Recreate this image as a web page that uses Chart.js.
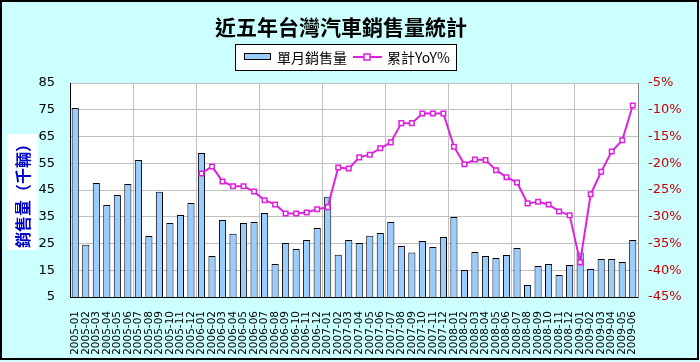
<!DOCTYPE html>
<html>
<head>
<meta charset="utf-8">
<script src="https://cdn.jsdelivr.net/npm/chart.js@4/dist/chart.umd.min.js"></script>
<style>
html,body{margin:0;padding:0;background:#ccffff;}
canvas{display:block;}
</style>
</head>
<body>
<canvas id="c" width="700" height="362" style="width:700px;height:362px"></canvas>
<script>
const chartTitle = '近五年台灣汽車銷售量統計';
const yTitle = '銷售量（千輛）';
const seriesNames = ['單月銷售量', '累計YoY%'];

const months = [
 '2005-01','2005-02','2005-03','2005-04','2005-05','2005-06','2005-07','2005-08','2005-09','2005-10','2005-11','2005-12',
 '2006-01','2006-02','2006-03','2006-04','2006-05','2006-06','2006-07','2006-08','2006-09','2006-10','2006-11','2006-12',
 '2007-01','2007-02','2007-03','2007-04','2007-05','2007-06','2007-07','2007-08','2007-09','2007-10','2007-11','2007-12',
 '2008-01','2008-02','2008-03','2008-04','2008-05','2008-06','2008-07','2008-08','2008-09','2008-10','2008-11','2008-12',
 '2009-01','2009-02','2009-03','2009-04','2009-05','2009-06'
];

const monthlySales = [
 75.7, 24.5, 47.6, 39.4, 43.1, 47.2, 56.2, 27.8, 44.3, 32.7, 35.7, 40.1,
 58.8, 20.3, 33.8, 28.6, 32.7, 33.0, 36.4, 17.3, 25.2, 22.9, 26.3, 30.8,
 42.5, 20.8, 26.3, 25.2, 27.9, 28.9, 33.0, 24.1, 21.6, 25.9, 23.7, 27.4,
 34.9, 15.1, 21.8, 20.3, 19.6, 20.7, 23.3, 9.5, 16.6, 17.3, 13.2, 17.0,
 21.6, 15.5, 19.2, 19.2, 18.1, 26.3
];

const cumulativeYoY = [
 null, null, null, null, null, null, null, null, null, null, null, null,
 -21.9, -20.6, -23.4, -24.3, -24.3, -25.3, -26.9, -27.7, -29.4, -29.4, -29.2, -28.6,
 -28.2, -20.8, -21.0, -18.9, -18.4, -17.2, -16.1, -12.5, -12.5, -10.7, -10.7, -10.7,
 -16.9, -20.2, -19.3, -19.4, -21.3, -22.6, -23.6, -27.5, -27.2, -27.7, -29.0, -29.7,
 -38.5, -25.8, -21.6, -17.8, -15.7, -9.2
];

const leftTicks = {min: 5, max: 85, step: 10};
const rightTicks = {min: -45, max: -5, step: 5};

const BAR_COLOR = '#99ccff';
const LINE_COLOR = '#dd22dd';
const CJK = '"Noto Sans CJK TC", "Noto Sans CJK SC", sans-serif';
const NUM = '"DejaVu Sans", sans-serif';

const decor = {
  id: 'decor',
  beforeDraw(chart) {
    const ctx = chart.ctx, a = chart.chartArea;
    ctx.save();
    ctx.fillStyle = '#ccffff';
    ctx.fillRect(0, 0, chart.width, chart.height);
    ctx.fillStyle = '#ffffff';
    ctx.fillRect(a.left, a.top, a.right - a.left, a.bottom - a.top);
    ctx.restore();
  },
  afterDraw(chart) {
    const ctx = chart.ctx;
    ctx.save();
    // outer border
    ctx.strokeStyle = '#000';
    ctx.lineWidth = 2;
    ctx.strokeRect(1, 1, 697, 358);

    // title
    ctx.fillStyle = '#000';
    ctx.font = 'bold 21px ' + CJK;
    ctx.textAlign = 'center';
    ctx.textBaseline = 'middle';
    ctx.fillText(chartTitle, 341, 27);

    // legend
    ctx.lineWidth = 1;
    ctx.fillStyle = '#fff';
    ctx.fillRect(235, 44, 222, 27);
    ctx.strokeStyle = '#000';
    ctx.strokeRect(235.5, 44.5, 221, 26);
    ctx.fillStyle = BAR_COLOR;
    ctx.fillRect(244, 53, 27, 7);
    ctx.strokeRect(244.5, 53.5, 26, 6);
    ctx.fillStyle = '#000';
    ctx.font = '14px ' + CJK;
    ctx.textAlign = 'left';
    ctx.fillText(chart.data.datasets[0].label, 277, 58);
    ctx.strokeStyle = LINE_COLOR;
    ctx.lineWidth = 2;
    ctx.beginPath();
    ctx.moveTo(353, 57);
    ctx.lineTo(382, 57);
    ctx.stroke();
    ctx.fillStyle = '#fff';
    ctx.fillRect(364, 54, 6, 6);
    ctx.lineWidth = 1.5;
    ctx.strokeRect(364, 54, 6, 6);
    ctx.fillStyle = '#000';
    ctx.fillText(chart.data.datasets[1].label, 387, 58);

    // y title
    ctx.fillStyle = '#fff';
    ctx.fillRect(7, 134, 31, 116);
    ctx.translate(23, 192);
    ctx.rotate(-Math.PI / 2);
    ctx.fillStyle = '#0000cc';
    ctx.font = 'bold 16px ' + CJK;
    ctx.textAlign = 'center';
    ctx.textBaseline = 'middle';
    ctx.fillText(yTitle, 0, 0);
    ctx.restore();
  }
};

new Chart(document.getElementById('c'), {
  type: 'bar',
  data: {
    labels: months,
    datasets: [
      {
        type: 'bar',
        label: seriesNames[0],
        data: monthlySales,
        yAxisID: 'y',
        backgroundColor: BAR_COLOR,
        borderColor: '#000',
        borderWidth: 1,
        barPercentage: 0.68,
        categoryPercentage: 1,
        order: 1
      },
      {
        type: 'line',
        label: seriesNames[1],
        data: cumulativeYoY,
        yAxisID: 'y1',
        borderColor: LINE_COLOR,
        borderWidth: 2,
        backgroundColor: '#fff',
        pointStyle: 'rect',
        pointRadius: 3.2,
        pointBorderWidth: 1.5,
        pointBorderColor: LINE_COLOR,
        pointBackgroundColor: '#fff',
        tension: 0,
        spanGaps: false,
        order: 0
      }
    ]
  },
  options: {
    responsive: false,
    animation: false,
    devicePixelRatio: 1,
    layout: {padding: {top: 83, left: 0, right: 0, bottom: 0}},
    plugins: {legend: {display: false}, title: {display: false}, tooltip: {enabled: false}},
    scales: {
      x: {
        offset: true,
        grid: {
          offset: true,
          drawTicks: false,
          color: (c) => (c.index % 6 === 0 ? '#c0c0c0' : 'rgba(0,0,0,0)'),
          lineWidth: 1
        },
        border: {color: '#000', width: 1},
        ticks: {
          autoSkip: false, minRotation: 90, maxRotation: 90, padding: 14,
          color: '#000', font: {family: NUM, size: 10.5}
        },
        afterFit: (s) => { s.height = 65; }
      },
      y: {
        position: 'left',
        min: leftTicks.min, max: leftTicks.max,
        ticks: {stepSize: leftTicks.step, padding: 15, color: '#000', font: {family: NUM, size: 13}},
        grid: {color: '#c0c0c0', drawTicks: false},
        border: {color: '#000', width: 1},
        afterFit: (s) => { s.width = 70; }
      },
      y1: {
        position: 'right',
        min: rightTicks.min, max: rightTicks.max,
        ticks: {stepSize: rightTicks.step, padding: 10, color: '#cc0000', font: {family: NUM, size: 13},
                callback: (v) => v + '%'},
        grid: {drawOnChartArea: false, drawTicks: false},
        border: {color: '#808080', width: 1},
        afterFit: (s) => { s.width = 62; }
      }
    }
  },
  plugins: [decor]
});
</script>
</body>
</html>
